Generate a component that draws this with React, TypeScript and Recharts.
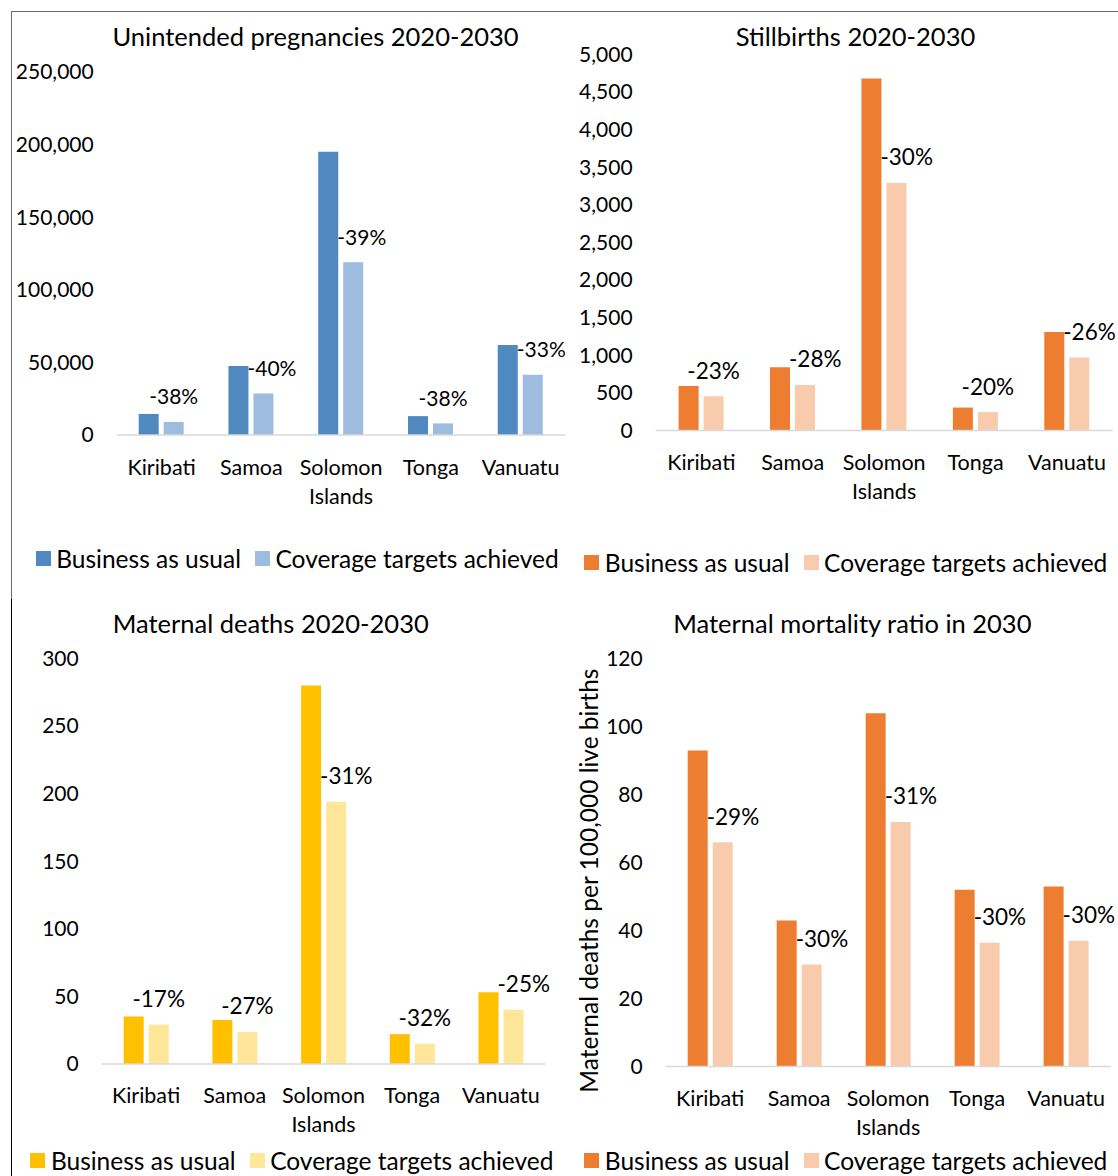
import React from "react";
import { BarChart, Bar, XAxis, YAxis, Legend, LabelList } from "recharts";

const countries = ["Kiribati", "Samoa", "Solomon Islands", "Tonga", "Vanuatu"];
const seriesNames = ["Business as usual", "Coverage targets achieved"];

const pregBau = [14500, 47500, 195000, 13000, 62000];
const pregCta = [9000, 28500, 119000, 8000, 41500];
const pregChange = ["-38%", "-40%", "-39%", "-38%", "-33%"];
const pregTicks = [0, 50000, 100000, 150000, 200000, 250000];

const stillBau = [590, 840, 4680, 305, 1310];
const stillCta = [455, 605, 3290, 244, 970];
const stillChange = ["-23%", "-28%", "-30%", "-20%", "-26%"];
const stillTicks = [0, 500, 1000, 1500, 2000, 2500, 3000, 3500, 4000, 4500, 5000];

const deathsBau = [35, 32.5, 280, 22, 53];
const deathsCta = [29, 23.7, 194, 15, 40];
const deathsChange = ["-17%", "-27%", "-31%", "-32%", "-25%"];
const deathsTicks = [0, 50, 100, 150, 200, 250, 300];

const mmrBau = [93, 43, 104, 52, 53];
const mmrCta = [66, 30, 72, 36.4, 37];
const mmrChange = ["-29%", "-30%", "-31%", "-30%", "-30%"];
const mmrTicks = [0, 20, 40, 60, 80, 100, 120];

const BLUE = ["#5089c0", "#9dbce0"];
const ORANGE = ["#ed7d31", "#f8cbad"];
const YELLOW = ["#ffc000", "#ffe699"];

const FONT = "Lato, 'Open Sans', sans-serif";
const BAR_GAP = 5;

const CategoryTick = (props: any) => {
  const { x, y, payload } = props;
  const lines = String(payload.value).split(" ");
  return (
    <g>
      {lines.map((ln: string, i: number) => (
        <text
          key={i}
          x={x}
          y={y + 31.5 + i * 29}
          textAnchor="middle"
          dominantBaseline="central"
          fontSize={21.5}
          fill="#000"
        >
          {ln}
        </text>
      ))}
    </g>
  );
};

// change label sits over the lighter bar, or just right of the darker one when it would hit it
const makeChangeLabel = (bau: number[], cta: number[], size: number) => (props: any) => {
  const vb = props.viewBox && typeof props.viewBox.x === "number" ? props.viewBox : props;
  const { x, y, width, height } = vb;
  const i = props.index;
  const base = y + height;
  const bauTop = base - (height * bau[i]) / cta[i];
  const cy = y - 26;
  const clash = cy + 11 > bauTop;
  return (
    <text
      x={clash ? x - BAR_GAP - 1 : x + width / 2}
      y={cy}
      textAnchor={clash ? "start" : "middle"}
      dominantBaseline="central"
      fontSize={size}
      fill="#000"
    >
      {props.value}
    </text>
  );
};

const renderLegend = (props: any) => {
  const payload = props.payload || [];
  return (
    <div style={{ display: "flex", alignItems: "center", height: 30, whiteSpace: "nowrap", fontSize: 24.5, color: "#000" }}>
      {payload.map((item: any) => (
        <span key={item.value} style={{ display: "flex", alignItems: "center", marginRight: 14 }}>
          <span style={{ width: 15, height: 15, background: item.color, marginRight: 5.5, display: "inline-block" }} />
          <span>{item.value}</span>
        </span>
      ))}
    </div>
  );
};

type Box = { left: number; top: number; width: number; height: number };
type Plot = { l: number; r: number; t: number; b: number };

function Panel(props: {
  title: string;
  titleX: number;
  titleY: number;
  bau: number[];
  cta: number[];
  change: string[];
  ticks: number[];
  colors: string[];
  box: Box;
  plot: Plot;
  legendX: number;
  legendY: number;
  labelSize: number;
  yTitle?: { text: string; x: number; y: number };
}) {
  const { box, plot } = props;
  const rows = countries.map((name, i) => ({
    name,
    bau: props.bau[i],
    cta: props.cta[i],
    change: props.change[i],
  }));
  const marginTop = plot.t - box.top;
  const marginRight = box.left + box.width - plot.r;
  const yWidth = plot.l - box.left;
  const xHeight = box.top + box.height - plot.b;
  const max = props.ticks[props.ticks.length - 1];
  const yt = props.yTitle;
  return (
    <>
      <div
        style={{
          position: "absolute",
          left: props.titleX,
          top: props.titleY,
          transform: "translate(-50%, -50%)",
          whiteSpace: "nowrap",
          fontSize: 25.5,
          color: "#000",
        }}
      >
        {props.title}
      </div>
      <div style={{ position: "absolute", left: box.left, top: box.top }}>
        <BarChart
          width={box.width}
          height={box.height}
          data={rows}
          barGap={BAR_GAP}
          margin={{ top: marginTop, right: marginRight, bottom: 0, left: 0 }}
        >
          <XAxis
            dataKey="name"
            height={xHeight}
            interval={0}
            tickLine={false}
            tickSize={0}
            tickMargin={0}
            axisLine={{ stroke: "#d9d9d9", strokeWidth: 1.5 }}
            tick={<CategoryTick />}
          />
          <YAxis
            width={yWidth}
            domain={[0, max]}
            ticks={props.ticks}
            interval={0}
            axisLine={false}
            tickLine={false}
            tickSize={0}
            tickMargin={23}
            tick={{ fontSize: 21, fill: "#000" }}
            tickFormatter={(v: number) => v.toLocaleString("en-US")}
            label={
              yt
                ? {
                    content: () => (
                      <text
                        x={yt.x - box.left}
                        y={yt.y - box.top}
                        transform={`rotate(-90 ${yt.x - box.left} ${yt.y - box.top})`}
                        textAnchor="middle"
                        dominantBaseline="central"
                        fontSize={24.5}
                        fill="#000"
                      >
                        {yt.text}
                      </text>
                    ),
                  }
                : undefined
            }
          />
          <Legend
            verticalAlign="middle"
            layout="horizontal"
            wrapperStyle={{ left: props.legendX - box.left, top: props.legendY - box.top - 15, width: "auto" }}
            content={renderLegend}
          />
          <Bar dataKey="bau" name={seriesNames[0]} fill={props.colors[0]} barSize={20} isAnimationActive={false} />
          <Bar dataKey="cta" name={seriesNames[1]} fill={props.colors[1]} barSize={20} isAnimationActive={false}>
            <LabelList dataKey="change" content={makeChangeLabel(props.bau, props.cta, props.labelSize)} />
          </Bar>
        </BarChart>
      </div>
    </>
  );
}

export default function App() {
  return (
    <div
      style={{
        position: "fixed",
        left: 0,
        top: 0,
        width: 1118,
        height: 1176,
        background: "#fff",
        fontFamily: FONT,
        overflow: "hidden",
      }}
    >
      <div style={{ position: "absolute", left: 11, top: 11, width: 1107, height: 1, background: "#6b6b6b" }} />
      <div style={{ position: "absolute", left: 11, top: 11, width: 1, height: 588, background: "#6b6b6b" }} />
      <div style={{ position: "absolute", left: 11, top: 599, width: 1, height: 577, background: "#000" }} />

      <Panel
        title="Unintended pregnancies 2020-2030"
        titleX={315.5}
        titleY={36.4}
        bau={pregBau}
        cta={pregCta}
        change={pregChange}
        ticks={pregTicks}
        colors={BLUE}
        box={{ left: 12, top: 20, width: 570, height: 560 }}
        plot={{ l: 116.7, r: 565.5, t: 72, b: 435 }}
        legendX={35.7}
        legendY={558.7}
        labelSize={21}
      />
      <Panel
        title="Stillbirths 2020-2030"
        titleX={855.5}
        titleY={36.4}
        bau={stillBau}
        cta={stillCta}
        change={stillChange}
        ticks={stillTicks}
        colors={ORANGE}
        box={{ left: 562, top: 20, width: 556, height: 560 }}
        plot={{ l: 655.6, r: 1112.7, t: 54.3, b: 430.5 }}
        legendX={584.3}
        legendY={562.5}
        labelSize={22.5}
      />
      <Panel
        title="Maternal deaths 2020-2030"
        titleX={270.7}
        titleY={622.9}
        bau={deathsBau}
        cta={deathsCta}
        change={deathsChange}
        ticks={deathsTicks}
        colors={YELLOW}
        box={{ left: 12, top: 640, width: 548, height: 536 }}
        plot={{ l: 101.7, r: 545.2, t: 658.4, b: 1063.9 }}
        legendX={30.4}
        legendY={1160}
        labelSize={22.5}
      />
      <Panel
        title="Maternal mortality ratio in 2030"
        titleX={852.3}
        titleY={622.9}
        bau={mmrBau}
        cta={mmrCta}
        change={mmrChange}
        ticks={mmrTicks}
        colors={ORANGE}
        box={{ left: 562, top: 640, width: 556, height: 536 }}
        plot={{ l: 665.7, r: 1110.6, t: 658.8, b: 1066.5 }}
        legendX={584.3}
        legendY={1160}
        labelSize={22.5}
        yTitle={{ text: "Maternal deaths per 100,000 live births", x: 588.6, y: 880.6 }}
      />
    </div>
  );
}
